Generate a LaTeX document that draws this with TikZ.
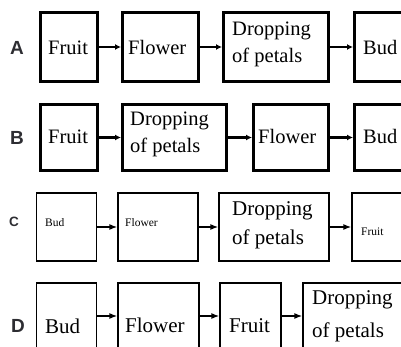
\documentclass[tikz,border=0pt]{standalone}
\usepackage{fontspec}
\setmainfont{Liberation Serif}
\newfontfamily\labelfont{Liberation Sans}
\usetikzlibrary{arrows.meta}
\definecolor{lblgray}{RGB}{45,45,50}
\tikzset{
  box/.style={draw, line width=3pt, inner sep=0pt},
  thinbox/.style={draw, line width=1.3pt, inner sep=0pt},
  arr/.style={line width=2.2pt, -{Latex[length=6pt,width=6pt]}},
  thinarr/.style={line width=1.3pt, -{Latex[length=8pt,width=6pt]}},
  lbl/.style={inner sep=0pt, text=lblgray, font=\labelfont\bfseries\fontsize{19}{19}\selectfont},
  txt/.style={anchor=base west, inner sep=0pt, align=left, font=\fontsize{20.5}{27}\selectfont},
  smalltxt/.style={anchor=base west, inner sep=0pt, font=\fontsize{11.5}{14}\selectfont},
}

\begin{document}
\begin{tikzpicture}[x=1pt,y=1pt,yscale=-1]
\useasboundingbox (0,0) rectangle (401,347);
\clip (0,0) rectangle (401,347);

% row A
\node[lbl] (la) at (17,48) {A};
\node[box, minimum width=57pt, minimum height=69pt] (a1) at (69,47) {};
\node[box, minimum width=76pt, minimum height=69pt] (a2) at (160.5,47) {};
\node[box, minimum width=105pt, minimum height=69pt] (a3) at (276,47) {};
\node[box, minimum width=64pt, minimum height=69pt] (a4) at (386.5,47) {};
\node[txt] (ta1) at (48,55) {Fruit};
\node[txt] (ta2) at (128,55) {Flower};
\node[txt] (ta3) at (232,63) {Dropping\\of petals};
\node[txt] (ta4) at (363,55) {Bud};
\draw[arr] (a1) -- (a2);
\draw[arr] (a2) -- (a3);
\draw[arr] (a3) -- (a4);

% row B
\node[lbl] (lb) at (17,138) {B};
\node[box, minimum width=57pt, minimum height=66pt] (b1) at (69,137.5) {};
\node[box, minimum width=104pt, minimum height=66pt] (b2) at (174.5,137.5) {};
\node[box, minimum width=75pt, minimum height=66pt] (b3) at (291,137.5) {};
\node[box, minimum width=64pt, minimum height=66pt] (b4) at (386.5,137.5) {};
\node[txt] (tb1) at (48,144) {Fruit};
\node[txt] (tb2) at (130,153) {Dropping\\of petals};
\node[txt] (tb3) at (258,144) {Flower};
\node[txt] (tb4) at (363,144) {Bud};
\draw[arr] (b1) -- (b2);
\draw[arr] (b2) -- (b3);
\draw[arr] (b3) -- (b4);

% row C
\node[lbl, font=\labelfont\bfseries\fontsize{13.5}{13.5}\selectfont] (lc) at (14,222) {C};
\node[thinbox, minimum width=60pt, minimum height=68pt] (c1) at (66.5,227) {};
\node[thinbox, minimum width=80pt, minimum height=68pt] (c2) at (158,227) {};
\node[thinbox, minimum width=110pt, minimum height=68pt] (c3) at (274,227) {};
\node[thinbox, minimum width=68pt, minimum height=68pt] (c4) at (386,227) {};
\node[smalltxt] (tc1) at (45,226) {Bud};
\node[smalltxt] (tc2) at (125,226) {Flower};
\node[txt, font=\fontsize{21}{29}\selectfont] (tc3) at (232,244) {Dropping\\of petals};
\node[smalltxt] (tc4) at (361,236) {Fruit};
\draw[thinarr] (c1) -- (c2);
\draw[thinarr] (c2) -- (c3);
\draw[thinarr] (c3) -- (c4);

% row D
\coordinate (dy) at (0,316);
\node[lbl] (ld) at (18,326) {D};
\node[thinbox, minimum width=60pt, minimum height=80pt] (d1) at (66.5,323) {};
\node[thinbox, minimum width=81pt, minimum height=80pt] (d2) at (158.5,323) {};
\node[thinbox, minimum width=61pt, minimum height=80pt] (d3) at (250.5,323) {};
\node[thinbox, minimum width=117pt, minimum height=80pt] (d4) at (361.5,323) {};
\node[txt, font=\fontsize{21}{33}\selectfont] (td1) at (45,333) {Bud};
\node[txt, font=\fontsize{21}{33}\selectfont] (td2) at (125,332) {Flower};
\node[txt, font=\fontsize{21}{33}\selectfont] (td3) at (229,332) {Fruit};
\node[txt, font=\fontsize{21}{33}\selectfont] (td4) at (312,337) {Dropping\\of petals};
\draw[thinarr] (d1.east |- dy) -- (d2.west |- dy);
\draw[thinarr] (d2.east |- dy) -- (d3.west |- dy);
\draw[thinarr] (d3.east |- dy) -- (d4.west |- dy);

\end{tikzpicture}
\end{document}
